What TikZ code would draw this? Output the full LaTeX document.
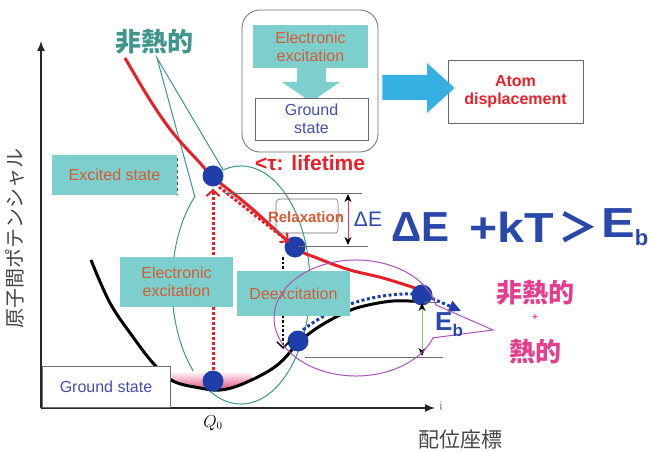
\documentclass[tikz,border=0pt]{standalone}
\usepackage{fontspec}
\setmainfont{Liberation Sans}
\newfontfamily\jp{Noto Sans CJK JP}
\usetikzlibrary{arrows.meta,decorations.pathreplacing,calc}
\definecolor{tealfill}{RGB}{125,207,205}
\definecolor{boxtext}{RGB}{212,92,52}
\definecolor{dotblue}{RGB}{32,62,170}
\definecolor{curvered}{RGB}{232,32,42}
\definecolor{eqblue}{RGB}{42,72,170}
\definecolor{pinktxt}{RGB}{228,62,140}
\definecolor{tealline}{RGB}{62,150,140}
\definecolor{purpleline}{RGB}{165,85,180}
\definecolor{arrowblue}{RGB}{52,176,226}
\definecolor{gstext}{RGB}{70,80,170}
\definecolor{greenline}{RGB}{140,200,110}
\definecolor{pinkshade}{RGB}{225,80,130}
\definecolor{thingray}{RGB}{110,110,110}
\definecolor{labelgray}{RGB}{70,70,70}
\tikzset{
  tealbox/.style={fill=tealfill, draw=none, text=boxtext, font=\fontsize{16}{18}\selectfont, align=center, inner sep=0pt},
  whitebox/.style={fill=white, draw=thingray, line width=0.8pt, align=center, inner sep=0pt, font=\fontsize{16}{18}\selectfont},
  dotnode/.style={circle, fill=dotblue, minimum size=21pt, inner sep=0pt},
  axisline/.style={line width=1.4pt, draw=black!85, -{Latex[length=10pt,width=8pt]}},
  thinline/.style={draw=thingray, line width=0.8pt},
  reddash/.style={draw=curvered, line width=3pt, dash pattern=on 3pt off 2pt},
  blackdash/.style={draw=black, line width=2.5pt, dash pattern=on 2.5pt off 2pt},
  bluedash/.style={draw=dotblue, line width=3pt, dash pattern=on 3pt off 2.5pt},
  calloutteal/.style={draw=tealline, line width=1pt},
  calloutpurple/.style={draw=purpleline, line width=1pt},
  bigeq/.style={text=eqblue, font=\bfseries\fontsize{42}{42}\selectfont, anchor=west, inner sep=0pt},
}
\begin{document}
\begin{tikzpicture}[x=1pt,y=-1pt]
\useasboundingbox (0,0) rectangle (649,452);
\fill[white] (0,0) rectangle (649,452);

% axes
\coordinate (O) at (41,408);
\coordinate (ytop) at (41,41);
\coordinate (xend) at (435,408);
\draw[axisline] (O) -- (ytop);
\draw[axisline] (O) -- (xend);
\node[text=greenline!70!black, font=\fontsize{12}{12}\selectfont] (ilabel) at (441,406) {i};
\node[text=labelgray, font=\jp\fontsize{21}{21}\selectfont] (xlabel) at (460,440) {配位座標};
\node[text=labelgray, font=\jp\fontsize{20}{20}\selectfont, rotate=90] (ylabel) at (15,238) {原子間ポテンシャル};
\node[font=\fontsize{16}{16}\selectfont] (q0) at (213,423) {$Q_0$};

% teal callout (behind boxes)
\draw[calloutteal] (157,58) -- ($(241,285)+(-105:69 and 119)$) arc[start angle=-105, end angle=228, x radius=69, y radius=119] -- cycle;

% pink shading at minimum
\shade[top color=white, bottom color=pinkshade] (170,371) -- (252,371) -- (252,381) -- (240,385) -- (220,390) -- (200,388) -- (172,381) -- cycle;

% curves
\draw[line width=3pt, black] plot[smooth, tension=0.6] coordinates {(91,260) (110,303) (133,337) (153,363) (173,381) (200,388) (220,390) (240,385) (267,372) (283,360) (298,343) (317,328) (340,315) (360,307) (393,301) (425,302)};
\draw[line width=3pt, curvered] plot[smooth, tension=0.6] coordinates {(125,58) (150,100) (173,133) (200,163) (213,177) (250,207) (295,247) (317,258) (350,270) (383,278) (418,289)};

% dots
\node[dotnode] (d1) at (213,381) {};
\node[dotnode] (d2) at (213,176) {};
\node[dotnode] (d3) at (295,247) {};
\node[dotnode] (d4) at (298,341) {};

% transitions
\draw[reddash, -{Straight Barb[length=6pt,width=13pt,line width=2pt]}] (d1.north) -- ($(d2.south)+(0,2)$);
\draw[reddash, -{Straight Barb[length=6pt,width=12pt,line width=2pt]}] ($(d2)+(6,11)$) -- ($(d3)+(-6,-5)$);
\draw[blackdash, -{Straight Barb[length=6pt,width=12pt,line width=1.5pt]}] ($(d3)+(-12,10)$) -- ($(d4)+(-15,8)$);
\draw[bluedash] ($(d4)+(5,-11)$) .. controls (335,305) and (375,292) .. (422,294);
\draw[bluedash, -{Triangle[length=12pt,width=11pt]}] (422,294) -- (461,311);
\node[dotnode] (d5) at (422,295) {};

% energy levels
\draw[thinline] (225,193) -- (362,193);
\draw[thinline] (298,246) -- (368,246);
\draw[thinline] (425,302) -- (438,302);
\draw[thinline] (305,357) -- (443,357);
\draw[line width=1pt, draw=pinktxt!80!purple, {Stealth[black,length=8pt,width=7pt]}-{Stealth[black,length=8pt,width=7pt]}] (348,194) -- (348,245);
\draw[line width=1pt, draw=greenline, {Stealth[black,length=8pt,width=7pt]}-{Stealth[black,length=8pt,width=7pt]}] (422,303) -- (422,356);

% relaxation bracket
\draw[thinline, line width=0.6pt, rounded corners=4pt] (336,199) -- (276,199) -- (276,233) -- (336,233);
\draw[thinline, line width=0.6pt, decorate, decoration={brace, amplitude=4pt}] (336,199) -- (336,233);
\node[text=boxtext, font=\bfseries\fontsize{15}{15}\selectfont] (relax) at (306,217) {Relaxation};
\node[text=eqblue, font=\fontsize{21}{21}\selectfont] (dEsmall) at (368,219) {ΔE};

% teal boxes on the plot
\node[tealbox, minimum width=125pt, minimum height=40pt] (excited) at (114.5,175) {Excited state};
\draw[black!70, line width=0.8pt, dashed] ($(excited.north east)+(0,3)$) -- ($(excited.south east)+(0,-1)$);
\node[tealbox, minimum width=113pt, minimum height=50pt] (elexc) at (176.5,282) {Electronic\\excitation};
\node[tealbox, minimum width=113pt, minimum height=45pt] (deexc) at (293.5,293.5) {Deexcitation};
\node[whitebox, text=gstext, minimum width=128pt, minimum height=41pt] (gsbottom) at (106,386.5) {Ground state};

% purple callout
\draw[calloutpurple] (493,330) -- ($(356,318)+(20:82 and 58)$) arc[start angle=20, end angle=347, x radius=82, y radius=58] -- cycle;

% texts
\node[text=curvered, font=\bfseries\fontsize{21}{21}\selectfont] (life) at (310,163) {<τ: lifetime};
\node[text=tealline, font=\jp\bfseries\fontsize{26}{26}\selectfont] (nonth) at (154,42) {非熱的};
\node[text=pinktxt, font=\jp\bfseries\fontsize{26}{26}\selectfont] (pink1) at (535,293) {非熱的};
\node[text=pinktxt, font=\bfseries\fontsize{10}{10}\selectfont] (plus) at (535,318) {+};
\node[text=pinktxt, font=\jp\bfseries\fontsize{26}{26}\selectfont] (pink2) at (535,352) {熱的};
\node[text=eqblue, font=\bfseries\fontsize{26}{26}\selectfont, anchor=west, inner sep=0pt] (Eb) at (435,325) {E\raisebox{-6pt}{\fontsize{17}{17}\selectfont b}};

% big formula
\node[bigeq] (f1) at (391,227) {ΔE};
\node[bigeq] (f2) at (469,227) {\scalebox{1.15}[1]{+kT}};
\node[text=eqblue, font=\jp\bfseries\fontsize{40}{40}\selectfont, inner sep=0pt] (f3) at (578,227) {＞};
\node[bigeq] (f4) at (601,227) {\scalebox{1.2}[1]{E}\raisebox{-8pt}{\fontsize{22}{22}\selectfont b}};

% top inset
\node[draw=thingray, line width=0.8pt, rounded corners=18pt, minimum width=136pt, minimum height=142pt, inner sep=0pt] (frame) at (310,81) {};
\fill[tealfill] (297,66) -- (326,66) -- (326,82) -- (340,82) -- (311,102) -- (282,82) -- (297,82) -- cycle;
\node[tealbox, minimum width=115pt, minimum height=43pt] (topexc) at (310.5,46.5) {Electronic\\excitation};
\node[whitebox, text=gstext, minimum width=113pt, minimum height=42pt] (topgs) at (311.5,119) {Ground\\state};
\node[whitebox, text=curvered, font=\bfseries\fontsize{16}{18}\selectfont, minimum width=135pt, minimum height=63pt] (atom) at (515.5,91.5) {Atom\\displacement};
\fill[arrowblue] ($(frame.east)+(4,-6)$) -- (427,75) -- (427,63) -- ($(atom.west)+(7,-3.5)$) -- (427,113) -- (427,100) -- ($(frame.east)+(4,19)$) -- cycle;
\end{tikzpicture}
\end{document}
